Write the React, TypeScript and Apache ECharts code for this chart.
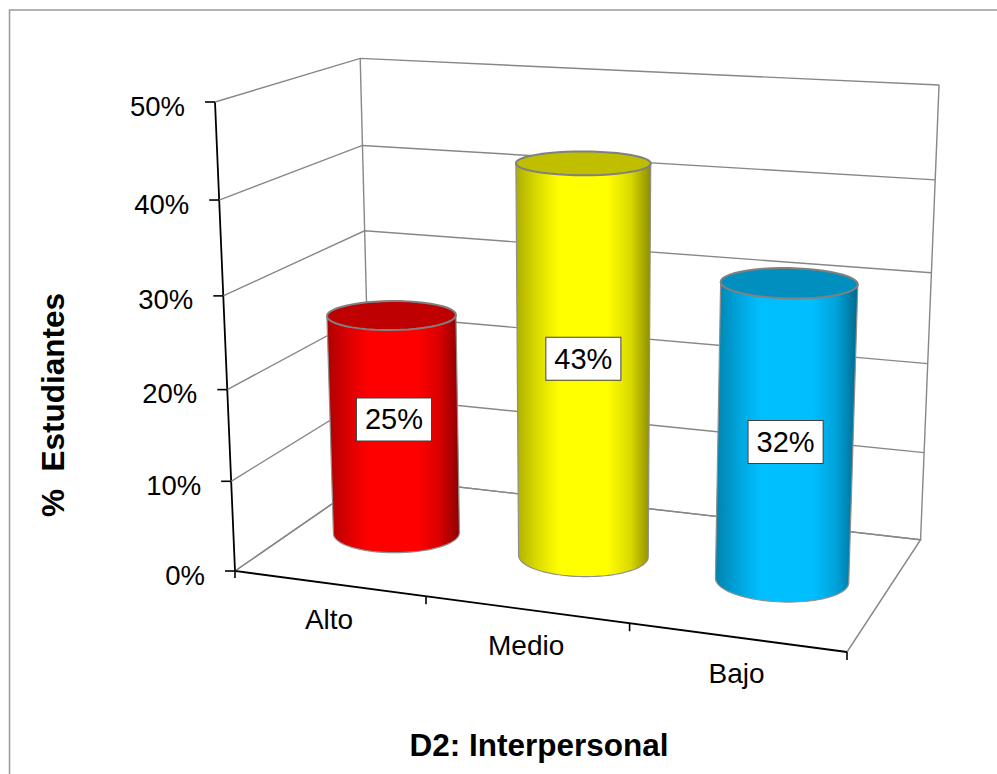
import React, { useEffect, useRef } from "react";
import * as echarts from "echarts";

const categories = ["Alto", "Medio", "Bajo"];
const percentages = [25, 43, 32];
const tickValues = [0, 10, 20, 30, 40, 50];
const barColors = [
  [255, 0, 0],
  [255, 255, 0],
  [0, 191, 255],
];
const labelShift = [-5, -4, 9];
const yAxisTitle = "% \u00a0Estudiantes";
const xAxisTitle = "D2: Interpersonal";

const FONT = '"Liberation Sans", Arial, sans-serif';
const WIDTH = 997;
const HEIGHT = 774;
const GRID = "#878787";
const INK = "#000000";

// Perspective of the Excel-like 3D box: corners of the plot and depth factors.
const ORIGIN = [235, 571];
const X_END = [847, 652];
const Y_END = [215, 102];
const Z_END = [371, 477];
const PERSP = [-0.0926, -0.054, 0.126];

const coef = (end: number[], p: number, i: number) => end[i] * (1 + p) - ORIGIN[i];

function project(u: number, t: number, z: number): number[] {
  const w = 1 + PERSP[0] * u + PERSP[1] * t + PERSP[2] * z;
  return [0, 1].map(
    (i) =>
      (coef(X_END, PERSP[0], i) * u +
        coef(Y_END, PERSP[1], i) * t +
        coef(Z_END, PERSP[2], i) * z +
        ORIGIN[i]) /
      w
  );
}

// Reads the normalised (u, t) position from ECharts' own scales.
function scaled(api: any, cat: number, value: number): [number, number] {
  const c = api.coord([cat, value]);
  return [c[0] / api.getWidth(), (api.getHeight() - c[1]) / api.getHeight()];
}

const shade = (rgb: number[], f: number) =>
  `rgb(${rgb.map((v) => Math.round(v * f)).join(",")})`;

function line(points: number[][], stroke: string, lineWidth: number) {
  return {
    type: "polyline",
    shape: { points },
    style: { stroke, lineWidth, fill: "none" },
    silent: true,
  };
}

function renderFrameTick(_params: any, api: any) {
  const value = api.value(1);
  const [, t] = scaled(api, 0, value);
  const a = project(0, t, 0);
  const children: any[] = [
    line([a, project(0, t, 1), project(1, t, 1)], GRID, 1.4),
    line([[a[0] - 10, a[1]], [a[0] + (value === 0 ? 2 : 0), a[1]]], INK, 1.6),
    {
      type: "text",
      x: a[0] - 30,
      y: a[1] + 4,
      style: {
        text: `${value}%`,
        fontFamily: FONT,
        fontSize: 27.5,
        fill: INK,
        align: "right",
        verticalAlign: "middle",
      },
    },
  ];
  return { type: "group", children };
}

function renderBox(_params: any, api: any) {
  const [, t1] = scaled(api, 0, api.value(1));
  const [, t0] = scaled(api, 0, 0);
  const o = project(0, t0, 0);
  return {
    type: "group",
    children: [
      line([project(0, t0, 1), project(0, t1, 1)], GRID, 1.4),
      line([project(1, t0, 1), project(1, t1, 1)], GRID, 1.4),
      line([o, project(0, t0, 1), project(1, t0, 1), project(1, t0, 0)], GRID, 1.4),
      line([project(0, t1, 0), o, project(1, t0, 0)], INK, 1.8),
      line([[o[0], o[1]], [o[0], o[1] + 7]], INK, 1.6),
    ],
  };
}

function ellipse(cx: number, cy: number, hw: number, ry: number, slope: number, from: number, to: number) {
  const pts: number[][] = [];
  const n = 48;
  for (let i = 0; i <= n; i++) {
    const a = from + ((to - from) * i) / n;
    pts.push([cx + hw * Math.cos(a), cy + hw * slope * Math.cos(a) + ry * Math.sin(a)]);
  }
  return pts;
}

function capGeometry(u: number, t: number) {
  const c = project(u, t, 0.5);
  return {
    cx: c[0],
    cy: c[1] + 1 + t * 1.5,
    hw: 63 + 5.5 * (u - 1 / 6) + 3 * t,
    ry: 20.5 - 10 * t + (u - 0.5) * 3,
    slope: (1 - t) * 0.06 * (u - 0.3) + t * 0.03 * (u - 0.5),
  };
}

function renderCylinder(params: any, api: any) {
  const i = params.dataIndex;
  const cat = api.value(0);
  const value = api.value(1);
  const [u, t] = scaled(api, cat, value);
  const [, t0] = scaled(api, cat, 0);
  const rgb = barColors[i];
  const top = capGeometry(u, t);
  const base = capGeometry(u, t0);
  const bottomArc = ellipse(base.cx, base.cy, base.hw, base.ry, base.slope, Math.PI, 0);
  const topRight = [top.cx + top.hw, top.cy + top.hw * top.slope];
  const topLeft = [top.cx - top.hw, top.cy - top.hw * top.slope];
  const mid = project(u, t / 2, 0.5);
  const fill = new echarts.graphic.LinearGradient(0, 0, 1, 0, [
    { offset: 0, color: shade(rgb, 0.68) },
    { offset: 0.15, color: shade(rgb, 0.85) },
    { offset: 0.32, color: shade(rgb, 1) },
    { offset: 0.68, color: shade(rgb, 1) },
    { offset: 0.85, color: shade(rgb, 0.85) },
    { offset: 1, color: shade(rgb, 0.55) },
  ]);
  return {
    type: "group",
    children: [
      {
        type: "polygon",
        shape: { points: [topLeft, ...bottomArc, topRight] },
        style: { fill, stroke: "#8f8f8f", lineWidth: 1.2 },
      },
      {
        type: "polygon",
        shape: { points: ellipse(top.cx, top.cy, top.hw, top.ry, top.slope, 0, Math.PI * 2) },
        style: { fill: shade(rgb, 0.75), stroke: "#808080", lineWidth: 2 },
      },
      {
        type: "text",
        x: mid[0],
        y: mid[1] + labelShift[i],
        style: {
          text: `${value}%`,
          fontFamily: FONT,
          fontSize: 29,
          fill: INK,
          align: "center",
          verticalAlign: "middle",
          backgroundColor: "#ffffff",
          borderColor: "#404040",
          borderWidth: 1,
          padding: [7, 8, 6, 8],
        },
      },
    ],
  };
}

function renderCategoryAxis(params: any, api: any) {
  const i = params.dataIndex;
  const cat = api.value(0);
  const [u] = scaled(api, cat, 0);
  const n = categories.length;
  const end = project((i + 1) / n, 0, 0);
  const p = project(u, 0, 0);
  return {
    type: "group",
    children: [
      line([end, [end[0], end[1] + 8]], INK, 1.6),
      {
        type: "text",
        x: p[0],
        y: p[1] + 36,
        style: {
          text: categories[i],
          fontFamily: FONT,
          fontSize: 28,
          fill: INK,
          align: "center",
          verticalAlign: "middle",
        },
      },
    ],
  };
}

export default function App() {
  const ref = useRef<HTMLDivElement>(null);
  useEffect(() => {
    document.body.style.margin = "0";
    const chart = echarts.init(ref.current as HTMLDivElement, null, { renderer: "svg" });
    chart.setOption({
      animation: false,
      backgroundColor: "#ffffff",
      grid: { left: 0, right: 0, top: 0, bottom: 0 },
      xAxis: { type: "category", data: categories, show: false },
      yAxis: { type: "value", min: 0, max: 50, interval: 10, show: false },
      graphic: [
        {
          type: "polyline",
          silent: true,
          z: 0,
          shape: { points: [[9.5, HEIGHT], [9.5, 10], [WIDTH, 10]] },
          style: { stroke: "#999999", lineWidth: 1.5, fill: "none" },
        },
        {
          type: "text",
          x: 53,
          y: 405,
          rotation: Math.PI / 2,
          style: {
            text: yAxisTitle,
            fontFamily: FONT,
            fontSize: 31.5,
            fontWeight: "bold",
            fill: INK,
            align: "center",
            verticalAlign: "middle",
          },
        },
        {
          type: "text",
          x: 539,
          y: 745,
          style: {
            text: xAxisTitle,
            fontFamily: FONT,
            fontSize: 31.5,
            fontWeight: "bold",
            fill: INK,
            align: "center",
            verticalAlign: "middle",
          },
        },
      ],
      series: [
        {
          type: "custom",
          name: "Marco",
          z: 1,
          renderItem: renderBox,
          data: [[0, tickValues[tickValues.length - 1]]],
          encode: { x: 0, y: 1 },
        },
        {
          type: "custom",
          name: "Escala",
          z: 1,
          renderItem: renderFrameTick,
          data: tickValues.map((v) => [0, v]),
          encode: { x: 0, y: 1 },
        },
        {
          type: "custom",
          name: "Categorias",
          z: 1,
          renderItem: renderCategoryAxis,
          data: categories.map((_c, i) => [i, 0]),
          encode: { x: 0, y: 1 },
        },
        {
          type: "custom",
          name: "% Estudiantes",
          z: 2,
          renderItem: renderCylinder,
          data: percentages.map((v, i) => [i, v]),
          encode: { x: 0, y: 1 },
        },
      ],
    });
    return () => chart.dispose();
  }, []);
  return <div ref={ref} style={{ width: WIDTH, height: HEIGHT }} />;
}
